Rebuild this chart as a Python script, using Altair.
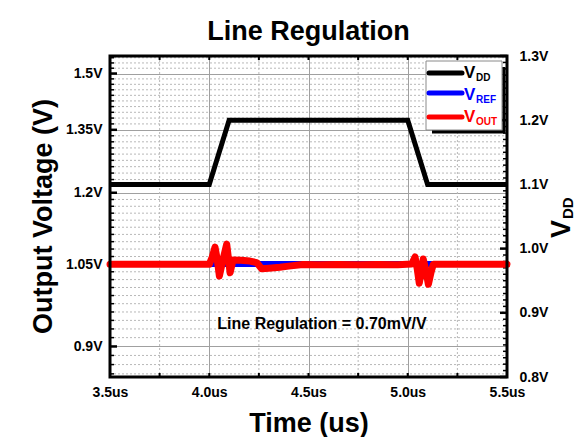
import altair as alt
import pandas as pd

# ---------------- data ----------------
vdd_time = [3.5, 4.0, 4.1, 5.0, 5.1, 5.5]
vdd_volt = [1.1, 1.1, 1.2, 1.2, 1.1, 1.1]

vref_time = [3.5, 5.5]
vref_volt = [1.05, 1.05]

vout_time = [3.5, 3.7, 3.9, 4.0, 4.015, 4.029, 4.04, 4.051, 4.07, 4.088, 4.097,
             4.105, 4.12, 4.16, 4.205, 4.239, 4.264, 4.3, 4.356, 4.4, 4.472,
             4.55, 4.65, 4.75, 4.85, 4.95, 5.02, 5.037, 5.048, 5.058, 5.068,
             5.078, 5.09, 5.104, 5.118, 5.129, 5.2, 5.3, 5.5]
vout_volt = [1.0495, 1.0495, 1.0495, 1.0495, 1.064, 1.084, 1.06, 1.027, 1.06,
             1.09, 1.06, 1.033, 1.058, 1.0575, 1.056, 1.053, 1.041, 1.042,
             1.044, 1.046, 1.049, 1.0485, 1.049, 1.0485, 1.049, 1.0485, 1.05,
             1.064, 1.04, 1.013, 1.035, 1.06, 1.04, 1.011, 1.035, 1.0495,
             1.0495, 1.0495, 1.0495]

x_major = [3.5, 4.0, 4.5, 5.0, 5.5]
x_minor = [3.75, 4.25, 4.75, 5.25]
left_major = [0.9, 1.05, 1.2, 1.35, 1.5]
left_minor = [round(0.855 + 0.015 * i, 3) for i in range(47)]
left_minor = [v for v in left_minor if all(abs(v - m) > 1e-6 for m in left_major)]
right_major = [0.8, 0.9, 1.0, 1.1, 1.2, 1.3]
right_minor = [round(0.81 + 0.01 * i, 2) for i in range(49)]
right_minor = [v for v in right_minor if all(abs(v - m) > 1e-6 for m in right_major)]

FONT = "Liberation Sans"
W, H = 397, 321
LBL = 14

x_scale = alt.Scale(domain=[3.5, 5.5], nice=False, zero=False)
yl_scale = alt.Scale(type="log", domain=[0.85, 1.55], nice=False)
yr_scale = alt.Scale(domain=[0.8, 1.3], nice=False, zero=False)

one = pd.DataFrame({"a": [0]})

df_vdd = pd.DataFrame({"t": vdd_time, "v": vdd_volt})
df_vref = pd.DataFrame({"t": vref_time, "v": vref_volt})
df_vout = pd.DataFrame({"t": vout_time, "v": vout_volt})

x_axis = alt.Axis(values=x_major, labelExpr="format(datum.value, '.1f') + 'us'",
                  grid=True, gridColor="#a0a0a0", gridWidth=1, ticks=False,
                  domain=False, labelFont=FONT, labelFontWeight="bold",
                  labelFontSize=LBL, labelColor="black", labelPadding=8,
                  labelFlush=False, title="Time (us)", titleFont=FONT,
                  titleFontSize=27, titleFontWeight="bold", titleColor="black",
                  titleX=198.5, titleY=46, titleAlign="center",
                  titleBaseline="middle")


def X(field="t"):
    return alt.X(f"{field}:Q", scale=x_scale, axis=x_axis)


yl_axis = alt.Axis(orient="left", values=left_major, labelExpr="datum.value + 'V'",
                   grid=True, gridColor="#a0a0a0", gridWidth=1, ticks=False,
                   domain=False, labelFont=FONT, labelFontWeight="bold",
                   labelFontSize=LBL, labelColor="black", labelPadding=8,
                   title="Output Voltage (V)", titleFont=FONT,
                   titleFontSize=27, titleFontWeight="bold", titleColor="black",
                   titleAngle=270, titleAlign="center", titleBaseline="middle",
                   titleX=-67, titleY=160)

yr_axis = alt.Axis(orient="right", values=right_major,
                   labelExpr="format(datum.value, '.1f') + 'V'",
                   grid=False, ticks=False, domain=False, labelFont=FONT,
                   labelFontWeight="bold", labelFontSize=LBL, labelColor="black",
                   labelPadding=12, title=None)

layers = []

# vertical minor grid
layers.append(alt.Chart(pd.DataFrame({"t": x_minor})).mark_rule(
    color="#b8b8b8", strokeWidth=1, strokeDash=[2, 2]
).encode(x=X(), y=alt.value(0), y2=alt.value(H)))

# horizontal minor grid (left scale) + left axis
layers.append(alt.Chart(pd.DataFrame({"v": left_minor})).mark_rule(
    color="#b8b8b8", strokeWidth=1, strokeDash=[2, 2]
).encode(y=alt.Y("v:Q", scale=yl_scale, axis=yl_axis),
         x=alt.value(0), x2=alt.value(W)))

# right axis carrier: right minor ticks
layers.append(alt.Chart(pd.DataFrame({"v": right_minor})).mark_rule(
    color="black", strokeWidth=1.5
).encode(y=alt.Y("v:Q", scale=yr_scale, axis=yr_axis),
         x=alt.value(W - 4), x2=alt.value(W)))

layers.append(alt.Chart(pd.DataFrame({"v": right_major})).mark_rule(
    color="black", strokeWidth=2.5
).encode(y=alt.Y("v:Q", scale=yr_scale, axis=None),
         x=alt.value(W - 7), x2=alt.value(W)))

layers.append(alt.Chart(pd.DataFrame({"v": left_minor})).mark_rule(
    color="black", strokeWidth=1.5
).encode(y=alt.Y("v:Q", scale=yl_scale, axis=None),
         x=alt.value(0), x2=alt.value(4)))

layers.append(alt.Chart(pd.DataFrame({"v": left_major})).mark_rule(
    color="black", strokeWidth=2.5
).encode(y=alt.Y("v:Q", scale=yl_scale, axis=None),
         x=alt.value(0), x2=alt.value(7)))

# x ticks bottom / top
layers.append(alt.Chart(pd.DataFrame({"t": x_major + x_minor})).mark_rule(
    color="black", strokeWidth=2
).encode(x=X(), y=alt.value(H - 4), y2=alt.value(H)))
layers.append(alt.Chart(pd.DataFrame({"t": x_major + x_minor})).mark_rule(
    color="black", strokeWidth=2
).encode(x=X(), y=alt.value(0), y2=alt.value(4)))

# data lines
layers.append(alt.Chart(df_vdd).mark_line(
    color="black", strokeWidth=5, strokeJoin="miter"
).encode(x=X(), y=alt.Y("v:Q", scale=yr_scale, axis=None)))

layers.append(alt.Chart(df_vref).mark_line(color="#0000ff", strokeWidth=6).encode(
    x=X(), y=alt.Y("v:Q", scale=yl_scale, axis=None)))

layers.append(alt.Chart(df_vout).mark_line(
    color="#ff0000", strokeWidth=7, strokeJoin="round", strokeCap="round"
).encode(x=X(), y=alt.Y("v:Q", scale=yl_scale, axis=None)))

# frame
layers.append(alt.Chart(one).mark_rect(fillOpacity=0, stroke="black", strokeWidth=3).encode(
    x=alt.value(0), x2=alt.value(W), y=alt.value(0), y2=alt.value(H)))

# legend
layers.append(alt.Chart(one).mark_rect(fill="white", stroke="#8a8a8a", strokeWidth=1).encode(
    x=alt.value(316), x2=alt.value(392), y=alt.value(5), y2=alt.value(74)))
layers.append(alt.Chart(one).mark_rule(color="black", strokeWidth=3).encode(
    x=alt.value(322), x2=alt.value(395), y=alt.value(76)))
layers.append(alt.Chart(one).mark_rule(color="black", strokeWidth=3).encode(
    x=alt.value(394), y=alt.value(11), y2=alt.value(76)))

legend_items = [("DD", "black", 17, 22, 25), ("REF", "#0000ff", 37, 44, 47),
                ("OUT", "#ff0000", 61, 66, 69)]
for sub, col, ly, vb, sb in legend_items:
    layers.append(alt.Chart(one).mark_rule(color=col, strokeWidth=5, strokeCap="round").encode(
        x=alt.value(319), x2=alt.value(352), y=alt.value(ly)))
    layers.append(alt.Chart(one).mark_text(
        text="V", font=FONT, fontWeight="bold", fontSize=17, color=col,
        align="left", baseline="alphabetic").encode(x=alt.value(354), y=alt.value(vb)))
    layers.append(alt.Chart(one).mark_text(
        text=sub, font=FONT, fontWeight="bold", fontSize=10, color=col,
        align="left", baseline="alphabetic").encode(x=alt.value(366), y=alt.value(sb)))

# texts
layers.append(alt.Chart(one).mark_text(
    text="Line Regulation", font=FONT, fontWeight="bold", fontSize=27,
    color="black", align="center", baseline="alphabetic"
).encode(x=alt.value(198.5), y=alt.value(-16)))

layers.append(alt.Chart(one).mark_text(
    text="Line Regulation = 0.70mV/V", font=FONT, fontWeight="bold", fontSize=16,
    color="black", align="center", baseline="middle"
).encode(x=alt.value(212), y=alt.value(268)))

layers.append(alt.Chart(one).mark_text(
    text="V", font=FONT, fontWeight="bold", fontSize=27, color="black",
    align="left", baseline="alphabetic", angle=270
).encode(x=alt.value(460), y=alt.value(182)))

layers.append(alt.Chart(one).mark_text(
    text="DD", font=FONT, fontWeight="bold", fontSize=15, color="black",
    align="left", baseline="alphabetic", angle=270
).encode(x=alt.value(463), y=alt.value(163)))

chart = alt.layer(*layers).resolve_scale(y="independent").properties(
    width=W, height=H,
    autosize=alt.AutoSizeParams(type="none"),
    padding={"left": 102, "top": 48, "right": 69, "bottom": 60},
    background="white",
).configure_view(stroke="transparent")

chart.save("out.html", embed_options={"renderer": "svg", "actions": False})
